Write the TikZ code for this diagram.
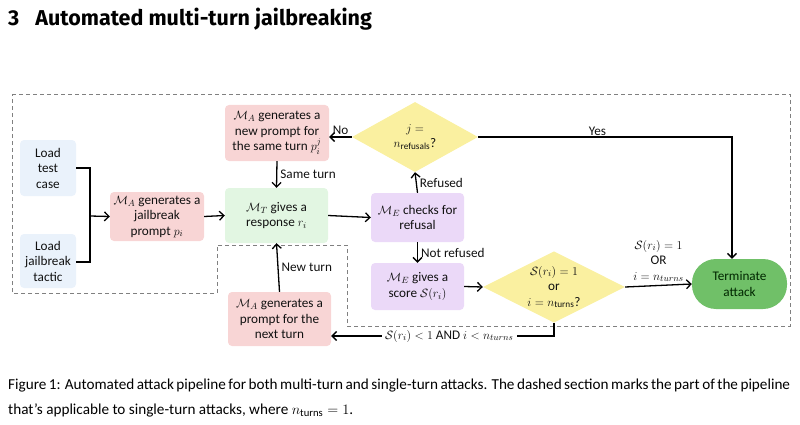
\documentclass[tikz,border=0pt]{standalone}
\usepackage{amsmath}
\usepackage{fontspec}
\setmainfont{Carlito}
\newfontfamily\titlefont{Fira Sans}
\usetikzlibrary{arrows.meta,shapes.geometric}
\definecolor{cpink}{HTML}{F8D5D5}
\definecolor{cblue}{HTML}{EAF2FB}
\definecolor{cgreen}{HTML}{E2F6E2}
\definecolor{cpurple}{HTML}{EBD9F8}
\definecolor{cyellow}{HTML}{FAF0A0}
\definecolor{cterm}{HTML}{70C068}
\definecolor{cdash}{HTML}{808080}
\definecolor{ctext}{HTML}{111111}
\tikzset{
  x=1pt,y=-1pt,
  every node/.style={text=ctext,font=\fontsize{13.2}{15.5}\selectfont},
  box/.style={rounded corners=4pt,align=center,inner sep=0pt,minimum width=#1},
  pinkbox/.style={box=#1,fill=cpink},
  bluebox/.style={box=#1,fill=cblue},
  greenbox/.style={box=#1,fill=cgreen},
  purplebox/.style={box=#1,fill=cpurple},
  decision/.style={diamond,fill=cyellow,aspect=1.8,inner sep=0pt,align=center},
  conn/.style={line width=1.3pt,draw=black,-{Straight Barb[length=4.5pt,width=9pt,line width=1.3pt]}},
  plain/.style={line width=1.3pt,draw=black},
  lbl/.style={inner sep=1pt},
  sidelbl/.style={inner sep=3pt,anchor=west},
  dashedbox/.style={draw=cdash,line width=0.9pt,dash pattern=on 4pt off 3pt},
}
\begin{document}
\begin{tikzpicture}
\useasboundingbox (0,0) rectangle (800,425);
% title
\node[anchor=base west,inner sep=0pt,font=\titlefont\bfseries\fontsize{21.5}{26}\selectfont,text=black] (title) at (8,26) {3\hspace{16pt}Automated multi-turn jailbreaking};
% dashed section
\draw[dashedbox] (12,94) -- (790,94) -- (790,326) -- (347,326) -- (347,245) -- (217,245) -- (217,293) -- (12,293) -- cycle;
% nodes
\node[bluebox=56pt,minimum height=56pt] (load1) at (48,168) {Load\\test\\case};
\node[bluebox=56pt,minimum height=54pt] (load2) at (48,261) {Load\\jailbreak\\tactic};
\node[pinkbox=94pt,minimum height=49pt] (genA) at (157,216.5) {$\mathcal{M}_A$ generates a\\jailbreak\\prompt $p_i$};
\node[greenbox=103pt,minimum height=55pt] (MT) at (276.5,215.5) {$\mathcal{M}_T$ gives a\\response $r_i$};
\node[pinkbox=104pt,minimum height=56pt] (newP) at (277,133) {$\mathcal{M}_A$ generates a\\new prompt for\\the same turn $p_i^j$};
\node[decision,minimum width=126pt,minimum height=70pt] (dia1) at (415,137) {$j=$\\$n_{\text{refusals}}$?};
\node[purplebox=93pt,minimum height=49pt] (chk) at (417.5,217.5) {$\mathcal{M}_E$ checks for\\refusal};
\node[purplebox=93pt,minimum height=47pt] (score) at (417.5,286.5) {$\mathcal{M}_E$ gives a\\score $\mathcal{S}(r_i)$};
\node[decision,minimum width=142pt,minimum height=70pt] (dia2) at (554,287) {$\mathcal{S}(r_i)=1$\\or\\$i=n_{\text{turns}}$?};
\node[rounded corners=24pt,fill=cterm,minimum width=95pt,minimum height=50pt,align=center,inner sep=0pt,text=black!85!green] (term) at (739.5,284) {Terminate\\attack};
\node[pinkbox=103pt,minimum height=54pt] (nextP) at (279.5,319) {$\mathcal{M}_A$ generates a\\prompt for the\\next turn};
% connectors
\coordinate (bj) at (90,216);
\draw[plain] (load1.east |- 0,168) -- (90,168) -- (90,262) -- (load2.east |- 0,262);
\draw[conn] (bj) -- (genA.west);
\draw[conn] (genA.east) -- (MT.west);
\draw[conn] (MT.east) -- (chk.west);
\draw[conn] (newP.south) -- node[sidelbl] (lsame) {Same turn} (MT.north);
\draw[conn] (chk.north) -- node[sidelbl] (lref) {Refused} (dia1.south);
\draw[conn] (dia1.west) -- node[lbl,above,yshift=1pt] (lno) {No} (newP.east |- dia1.west);
\draw[conn] (chk.south) -- node[sidelbl] (lnot) {Not refused} (score.north);
\draw[conn] (score.east) -- (dia2.west);
\coordinate (yc) at (732,137);
\draw[conn] (dia1.east) -- node[lbl,above,pos=0.47] (lyes) {Yes} (yc) -- (term.north -| yc);
\draw[conn] (dia2.east) -- node[lbl,above,align=center,yshift=2pt] (lend) {$\mathcal{S}(r_i)=1$\\OR\\$i=n_{turns}$} (term.west);
\coordinate (bc) at (554,336);
\draw[conn] (dia2.south) -- (bc) -- node[lbl,fill=white,pos=0.47,inner sep=3pt] (lcont) {$\mathcal{S}(r_i)<1$ AND $i<n_{turns}$} (nextP.east |- bc);
\draw[conn] (nextP.north) -- node[sidelbl] (lnew) {New turn} (MT.south);
% caption
\node[anchor=base west,inner sep=0pt,font=\fontsize{15.2}{18}\selectfont,text=black] (cap1) at (8,389) {\makebox[782pt][s]{Figure 1: Automated attack pipeline for both multi-turn and single-turn attacks. The dashed section marks the part of the pipeline}};
\node[anchor=base west,inner sep=0pt,font=\fontsize{15.2}{18}\selectfont,text=black] (cap2) at (8,414) {that's applicable to single-turn attacks, where $n_{\mathrm{turns}}=1$.};
\end{tikzpicture}
\end{document}
